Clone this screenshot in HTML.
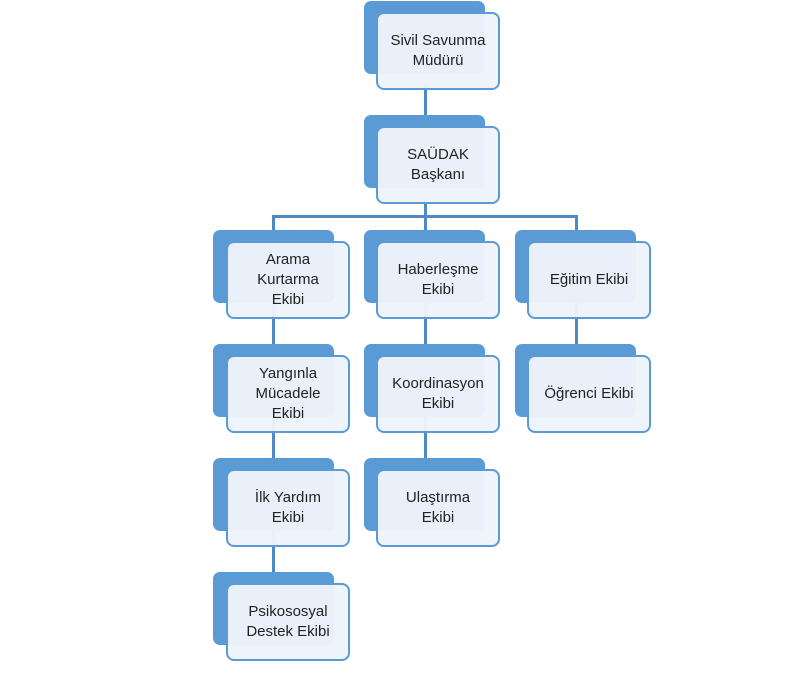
<!DOCTYPE html>
<html><head><meta charset="utf-8"><style>
body{margin:0;width:800px;height:689px;background:#fff;position:relative;overflow:hidden;font-family:"Liberation Sans",sans-serif}
.b{position:absolute;width:121px;height:73px;background:#5b9bd5;border-radius:7px}
.f{position:absolute;width:120px;height:74px;background:rgba(238,243,250,0.97);border:2px solid #5b9bd5;border-radius:8px;display:flex;align-items:center;justify-content:center;text-align:center;font-size:15px;line-height:20px;color:#222}
.l{position:absolute;background:#4f88c6}
</style></head><body>
<div class="l" style="left:424px;top:85px;width:3px;height:40px"></div>
<div class="l" style="left:424px;top:200px;width:3px;height:30px"></div>
<div class="l" style="left:272px;top:215px;width:306px;height:3px"></div>
<div class="l" style="left:272px;top:215px;width:3px;height:15px"></div>
<div class="l" style="left:575px;top:215px;width:3px;height:15px"></div>
<div class="l" style="left:272px;top:300px;width:3px;height:290px"></div>
<div class="l" style="left:424px;top:300px;width:3px;height:180px"></div>
<div class="l" style="left:575px;top:300px;width:3px;height:60px"></div>

<div class="b" style="left:364px;top:1px"></div><div class="f" style="left:376px;top:12px">Sivil Savunma<br>Müdürü</div>
<div class="b" style="left:364px;top:115px"></div><div class="f" style="left:376px;top:126px">SAÜDAK<br>Başkanı</div>

<div class="b" style="left:213px;top:230px"></div><div class="f" style="left:226px;top:241px">Arama<br>Kurtarma<br>Ekibi</div>
<div class="b" style="left:213px;top:344px"></div><div class="f" style="left:226px;top:355px">Yangınla<br>Mücadele<br>Ekibi</div>
<div class="b" style="left:213px;top:458px"></div><div class="f" style="left:226px;top:469px">İlk Yardım<br>Ekibi</div>
<div class="b" style="left:213px;top:572px"></div><div class="f" style="left:226px;top:583px">Psikososyal<br>Destek Ekibi</div>

<div class="b" style="left:364px;top:230px"></div><div class="f" style="left:376px;top:241px">Haberleşme<br>Ekibi</div>
<div class="b" style="left:364px;top:344px"></div><div class="f" style="left:376px;top:355px">Koordinasyon<br>Ekibi</div>
<div class="b" style="left:364px;top:458px"></div><div class="f" style="left:376px;top:469px">Ulaştırma<br>Ekibi</div>

<div class="b" style="left:515px;top:230px"></div><div class="f" style="left:527px;top:241px">Eğitim Ekibi</div>
<div class="b" style="left:515px;top:344px"></div><div class="f" style="left:527px;top:355px">Öğrenci Ekibi</div>
</body></html>
